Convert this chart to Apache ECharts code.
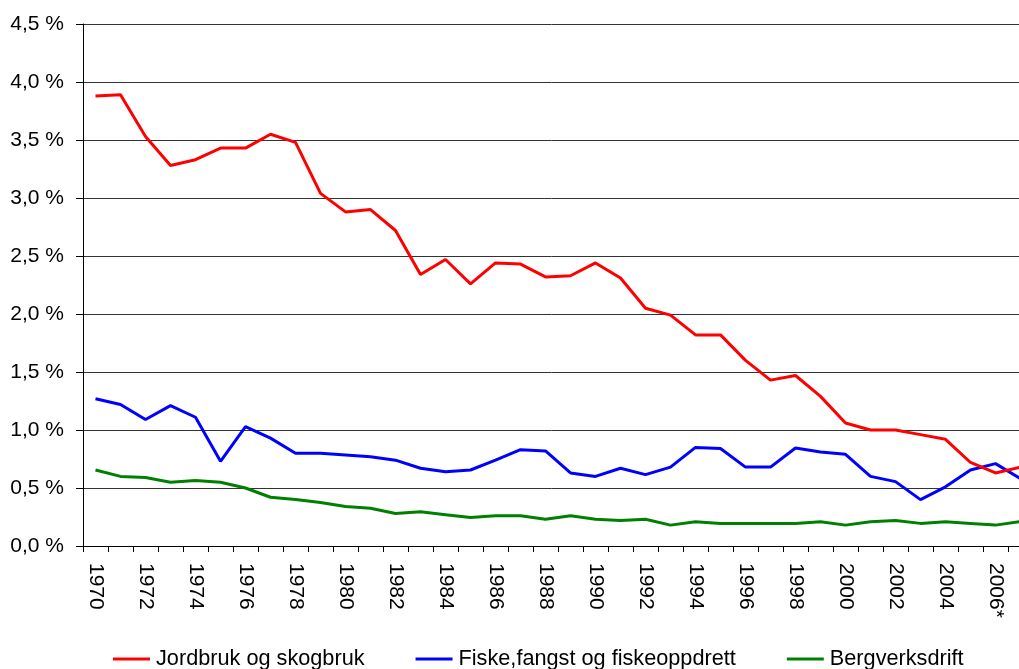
<!DOCTYPE html>
<html>
<head>
<meta charset="utf-8">
<script src="https://cdn.jsdelivr.net/npm/echarts@6/dist/echarts.min.js"></script>
<style>
html,body{margin:0;padding:0;background:#fff;}
#c{width:1019px;height:669px;}
</style>
</head>
<body>
<div id="c"></div>
<script>
const years = ['1970','1971','1972','1973','1974','1975','1976','1977','1978','1979',
  '1980','1981','1982','1983','1984','1985','1986','1987','1988','1989',
  '1990','1991','1992','1993','1994','1995','1996','1997','1998','1999',
  '2000','2001','2002','2003','2004','2005','2006*','2007'];

const jordbruk = [3.88,3.89,3.53,3.28,3.33,3.43,3.43,3.55,3.48,3.04,
  2.88,2.90,2.72,2.34,2.47,2.26,2.44,2.43,2.32,2.33,
  2.44,2.31,2.05,1.99,1.82,1.82,1.60,1.43,1.47,1.29,
  1.06,1.00,1.00,0.96,0.92,0.72,0.63,0.68];

const fiske = [1.27,1.22,1.09,1.21,1.11,0.73,1.03,0.93,0.80,0.80,
  0.785,0.77,0.74,0.67,0.64,0.655,0.74,0.83,0.82,0.63,
  0.60,0.67,0.615,0.68,0.85,0.84,0.68,0.68,0.845,0.81,
  0.79,0.60,0.555,0.40,0.51,0.655,0.71,0.58];

const bergverk = [0.655,0.60,0.59,0.55,0.565,0.55,0.50,0.42,0.40,0.375,
  0.34,0.325,0.28,0.295,0.27,0.245,0.26,0.26,0.23,0.26,
  0.23,0.22,0.23,0.18,0.21,0.195,0.195,0.195,0.195,0.21,
  0.18,0.21,0.22,0.195,0.21,0.195,0.18,0.21];

const seriesNames = ['Jordbruk og skogbruk','Fiske,fangst og fiskeoppdrett','Bergverksdrift'];
const seriesColors = ['#ff0000','#0000ff','#008000'];

const chart = echarts.init(document.getElementById('c'), null, {renderer:'canvas'});
const font = 'Liberation Sans, Arial, sans-serif';
const dataSets = [jordbruk, fiske, bergverk];

chart.setOption({
  animation:false,
  backgroundColor:'#fff',
  grid:{left:83, width:950, top:24, height:522, containLabel:false, outerBoundsMode:'none'},
  legend:{
    left:113, top:648, padding:0,
    icon:'rect', itemWidth:37, itemHeight:3, itemGap:51,
    textStyle:{fontFamily:font, fontSize:21.7, color:'#000', padding:[0,0,0,1]},
    data:seriesNames
  },
  xAxis:{
    type:'category',
    data:years,
    boundaryGap:true,
    axisLine:{lineStyle:{color:'#000', width:1}},
    axisTick:{show:true, interval:0, length:6, lineStyle:{color:'#000'}},
    axisLabel:{interval:1, rotate:-90, margin:17, fontFamily:font, fontSize:21, color:'#000'},
    splitLine:{show:false}
  },
  yAxis:{
    type:'value',
    min:0, max:4.5, interval:0.5,
    axisLine:{show:true, lineStyle:{color:'#000', width:1}},
    axisTick:{show:true, length:7, lineStyle:{color:'#000'}},
    axisLabel:{margin:19, fontFamily:font, fontSize:21, color:'#000',
      formatter:v=>v.toFixed(1).replace('.',',')+' %'},
    splitLine:{show:true, lineStyle:{color:'#333', width:1}}
  },
  series: dataSets.map((d,i)=>({
    name:seriesNames[i],
    type:'line',
    data:d,
    symbol:'none',
    color:seriesColors[i],
    lineStyle:{color:seriesColors[i], width:3},
    z:3-i
  }))
});
</script>
</body>
</html>
